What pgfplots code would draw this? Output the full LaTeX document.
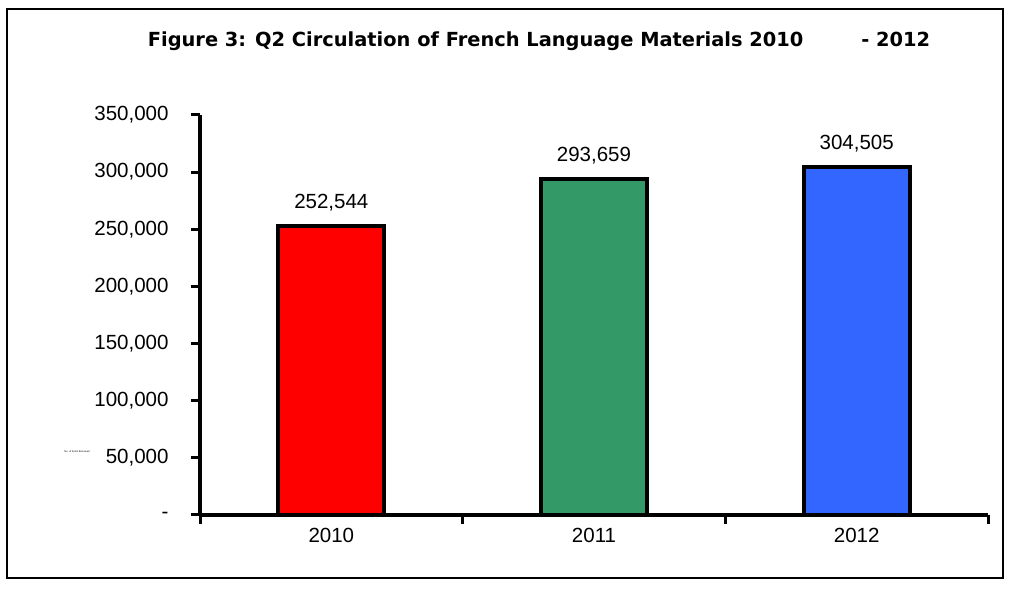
\documentclass[border=0pt]{standalone}
\usepackage{pgfplots}
\pgfplotsset{compat=1.18}
\usepackage{fontspec}
\setmainfont{Liberation Sans}
\newfontfamily\titlefont{DejaVu Sans}
\definecolor{barred}{HTML}{FF0000}
\definecolor{bargreen}{HTML}{339966}
\definecolor{barblue}{HTML}{3366FF}
\begin{document}
\begin{tikzpicture}[x=1pt,y=1pt]
\useasboundingbox (0,0) rectangle (1010,589);
\draw[line width=1.5pt] (7,11) rectangle (1003,580);
\node[font=\titlefont\bfseries\fontsize{19.4}{22}\selectfont] at (539,548) {Figure 3: Q2 Circulation of French Language Materials 2010\hspace{58pt}- 2012};
\node[font=\fontsize{2.5}{3}\selectfont] at (77,137) {No. of Items Borrowed};
\begin{axis}[
  at={(200pt,74pt)}, anchor=south west,
  scale only axis, width=788pt, height=400pt,
  xmin=-0.5, xmax=2.5, ymin=0, ymax=350000,
  scaled y ticks=false,
  axis x line*=bottom, axis y line*=left,
  axis line style={line width=3.5pt, -},
  tick style={line width=3pt, black},
  major tick length=9pt, tick align=outside,
  ytick={0,50000,100000,150000,200000,250000,300000,350000},
  yticklabels={{-\hspace{26pt}},{50,000},{100,000},{150,000},{200,000},{250,000},{300,000},{350,000}},
  yticklabel style={font=\fontsize{20.5}{23}\selectfont, xshift=-19pt},
  xtick={-0.5,0.5,1.5,2.5}, xticklabels={},
  extra x ticks={0,1,2}, extra x tick labels={2010,2011,2012},
  extra x tick style={major tick length=0pt, xticklabel style={font=\fontsize{20.5}{23}\selectfont, yshift=-10pt}},
  ybar, bar width=106pt,
  point meta=explicit symbolic,
  nodes near coords,
  every node near coord/.append style={font=\fontsize{20.5}{23}\selectfont, yshift=10pt, black},
  clip=false,
]
\addplot[bar shift=0pt, fill=barred, draw=black, line width=4pt] coordinates {(0,252544) [{252,544}]};
\addplot[bar shift=0pt, fill=bargreen, draw=black, line width=4pt] coordinates {(1,293659) [{293,659}]};
\addplot[bar shift=0pt, fill=barblue, draw=black, line width=4pt] coordinates {(2,304505) [{304,505}]};
\end{axis}
\end{tikzpicture}
\end{document}
